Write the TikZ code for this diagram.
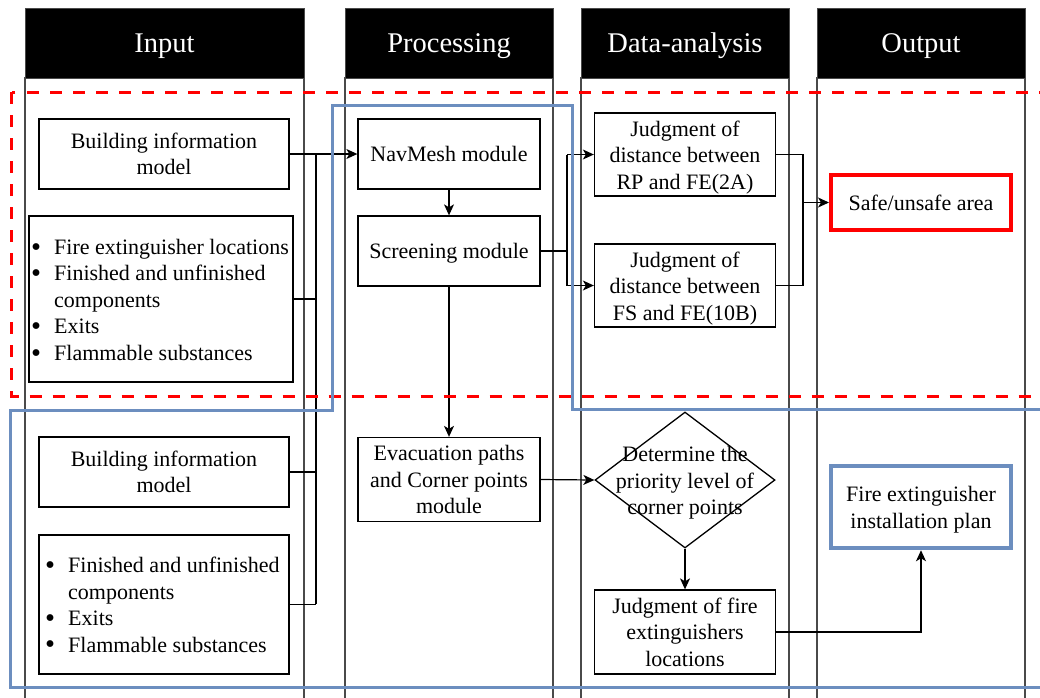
\documentclass[tikz,border=0pt]{standalone}
\usepackage{fontspec}
\setmainfont{Liberation Serif}
\usetikzlibrary{arrows.meta,shapes.geometric}
\definecolor{frameblue}{HTML}{6C8EBF}
\definecolor{lanegray}{HTML}{4A4A4A}
\newcommand\diagbody{\fontsize{22}{26.5}\selectfont}
\newcommand\diaghead{\fontsize{28.5}{32}\selectfont}
\newcommand\listdot{\raisebox{-0.08em}{\scalebox{1.3}{•}}}
% tall strut for the first line of a box, so lines sit like the word processor layout
\newcommand\boxstrut{\vrule width 0pt height 20.75pt depth 5.75pt\relax}
\tikzset{
  lane/.style={draw=lanegray, line width=1.1pt},
  header/.style={fill=black, draw=lanegray, line width=1pt, text=white,
    font=\diaghead, inner sep=0pt, minimum height=70pt,
    text height=19pt, text depth=0pt},
  oneline/.style={execute at begin node=\boxstrut, execute at end node=\boxstrut},
  box/.style={draw=black, line width=1.3pt, fill=white, inner sep=0pt,
    align=center, font=\diagbody},
  listtext/.style={anchor=west, inner sep=0pt, font=\diagbody, align=left},
  conn/.style={draw=black, line width=1.2pt},
  arr/.style={conn, -{Stealth[length=11pt,width=10pt,inset=3pt]}},
  zonered/.style={draw=red, line width=3pt, dash pattern=on 12pt off 11pt},
  zoneblue/.style={draw=frameblue, line width=3pt, line join=miter},
}
\begin{document}
\begin{tikzpicture}[x=1pt,y=-1pt]
\useasboundingbox (0,0) rectangle (1040,697);
\clip (0,0) rectangle (1040,697);

% swim lanes
\draw[lane] (25,78) rectangle (304,712);
\draw[lane] (345,78) rectangle (553,712);
\draw[lane] (581,78) rectangle (789,712);
\draw[lane] (817,78) rectangle (1025,712);
\node[header, minimum width=279pt] (hin)  at (164.5,43) {Input};
\node[header, minimum width=208pt] (hpro) at (449,43)   {Processing};
\node[header, minimum width=208pt] (hdat) at (685,43)   {Data-analysis};
\node[header, minimum width=208pt] (hout) at (921,43)   {Output};

% input lane
\node[box, minimum width=250pt, minimum height=70pt] (bim1) at (164,154)
  {Building information\\model};
\node[box, minimum width=264pt, minimum height=166pt] (list1) at (161,299) {};
\node[listtext] (list1txt) at (31,302) {%
  \begin{tabular}{@{}p{23pt}@{}l@{}}
  \listdot&Fire extinguisher locations\\
  \listdot&Finished and unfinished\\
   &components\\
  \listdot&Exits\\
  \listdot&Flammable substances
  \end{tabular}};
\node[box, minimum width=250pt, minimum height=70pt] (bim2) at (164,472)
  {Building information\\model};
\node[box, minimum width=250pt, minimum height=139pt] (list2) at (164,604.5) {};
\node[listtext] (list2txt) at (45,607) {%
  \begin{tabular}{@{}p{23pt}@{}l@{}}
  \listdot&Finished and unfinished\\
   &components\\
  \listdot&Exits\\
  \listdot&Flammable substances
  \end{tabular}};

% processing lane
\node[box, oneline, minimum width=182pt, minimum height=70pt] (nav) at (449,154) {NavMesh module};
\node[box, oneline, minimum width=182pt, minimum height=70pt] (scr) at (449,251) {Screening module};
\node[box, minimum width=182pt, minimum height=84pt] (evac) at (449,479.5)
  {Evacuation paths\\and Corner points\\module};

% data-analysis lane
\node[box, minimum width=181pt, minimum height=83pt] (jrp) at (685,154.5)
  {\boxstrut Judgment of\\distance between\\RP and FE(2A)};
\node[box, minimum width=181pt, minimum height=83pt] (jfs) at (685,285.5)
  {\boxstrut Judgment of\\distance between\\FS and FE(10B)};
\node[diamond, draw=black, line width=1.3pt, fill=white, inner sep=0pt,
  minimum width=180pt, minimum height=136pt] (prio) at (685,480) {};
\node[align=center, font=\diagbody, inner sep=0pt] (priotxt) at (prio.center)
  {\boxstrut Determine the\\priority level of\\corner points};
\node[box, minimum width=181pt, minimum height=84pt] (jfe) at (685,632)
  {Judgment of fire\\extinguishers\\locations};

% output lane
\node[box, oneline, draw=red, line width=4pt, minimum width=180pt, minimum height=55pt]
  (safe) at (921,202.5) {Safe/unsafe area};
\node[box, draw=frameblue, line width=4.5pt, minimum width=180pt, minimum height=82pt]
  (plan) at (921,507) {\boxstrut Fire extinguisher\\installation plan};

% input bus into the NavMesh module
\coordinate (busin) at (316,154);
\coordinate (busend) at (316,604);
\draw[conn] (busin) -- (busend);
\draw[conn] (list1.east) -- (list1.east -| busin);
\draw[conn] (bim2.east) -- (bim2.east -| busin);
\draw[conn] (list2.east) -- (list2.east -| busin);
\draw[arr] (bim1.east) -- (nav.west);

% processing flow
\draw[arr] (nav.south) -- (scr.north);
\draw[arr] (scr.south) -- (evac.north);

% screening splits into the two distance checks
\coordinate (splitx) at (567,251);
\draw[conn] (scr.east) -- (splitx);
\draw[conn] (splitx |- jrp.west) -- (splitx |- jfs.west);
\draw[arr] (splitx |- jrp.west) -- (jrp.west);
\draw[arr] (splitx |- jfs.west) -- (jfs.west);

% distance checks merge into the safe/unsafe result
\coordinate (mergex) at (803,202.5);
\draw[conn] (jrp.east) -- (mergex |- jrp.east) -- (mergex |- jfs.east) -- (jfs.east);
\draw[arr] (mergex) -- (safe.west);

% corner point branch
\draw[arr] (evac.east) -- (prio.west);
\draw[arr] (prio.south) -- (jfe.north);
\draw[arr] (jfe.east) -| (plan.south);

% highlighted zones
\draw[zonered] (11.5,92) rectangle (1055,396);
\draw[zoneblue] (1055,409) -- (572,409) -- (572,105) -- (332,105) -- (332,410)
  -- (10,410) -- (10,687) -- (1055,687);
\end{tikzpicture}
\end{document}
